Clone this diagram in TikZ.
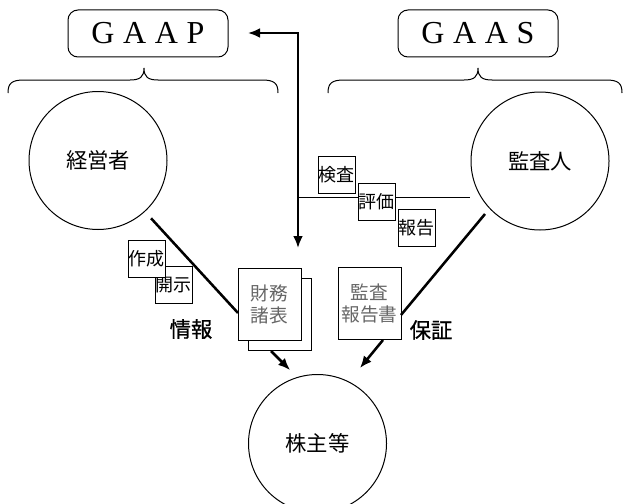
\documentclass[tikz,border=0pt]{standalone}
\usepackage{fontspec}
\setmainfont{Liberation Serif}
\newfontfamily\jp{Noto Sans CJK JP}
\newfontfamily\jpm[FakeBold=0.8]{Noto Sans CJK JP}
\usetikzlibrary{arrows.meta}
\begin{document}
\begin{tikzpicture}[x=0.75pt,y=-0.75pt,
  thinline/.style={line width=0.75pt},
  thickline/.style={line width=1.9pt},
  tip/.style={-{Latex[length=9pt,width=7.5pt]}},
  circ/.style={circle, draw, line width=0.75pt, minimum size=103.5pt, inner sep=0pt, font=\jp\fontsize{16}{18}\selectfont},
  tagbox/.style={rectangle, draw, fill=white, line width=0.75pt, minimum width=27.75pt, minimum height=27.75pt, inner sep=0pt, font=\jp\fontsize{13.5}{14}\selectfont},
  docbox/.style={rectangle, draw, fill=white, line width=0.75pt, minimum width=47.25pt, minimum height=54pt, inner sep=0pt, align=center, text=black!60, font=\jp\fontsize{14}{16.5}\selectfont},
  stdbox/.style={rectangle, rounded corners=7.5pt, draw, line width=0.75pt, minimum width=120pt, minimum height=35.25pt, inner sep=0pt, font=\fontsize{24}{26}\selectfont},
  biglabel/.style={font=\jpm\fontsize{16}{18}\selectfont}
]
\useasboundingbox (0,0) rectangle (623,503);

% standards
\node[stdbox] (gaap) at (148,33.5) {G\hspace{6.5pt}A\hspace{6.5pt}A\hspace{6.5pt}P};
\node[stdbox] (gaas) at (478,33.5) {G\hspace{6.5pt}A\hspace{6.5pt}A\hspace{6.5pt}S};

% braces
\draw[thinline] (8,93) .. controls (8,83) and (12,80) .. (24,80) -- (130,80)
  .. controls (140,80) and (144,77) .. (144,68)
  .. controls (144,77) and (148,80) .. (158,80) -- (262,80)
  .. controls (274,80) and (278,83) .. (278,93);
\draw[thinline] (328,93) .. controls (328,83) and (332,80) .. (344,80) -- (464,80)
  .. controls (474,80) and (478,77) .. (478,68)
  .. controls (478,77) and (482,80) .. (492,80) -- (606,80)
  .. controls (618,80) and (622,83) .. (622,93);

% circles
\node[circ] (mgr) at (98,160.5) {経営者};
\node[circ] (aud) at (540,161) {監査人};
\node[circ] (sh) at (317.5,443.5) {株主等};

% arrow from GAAP corner down
\coordinate (corner) at (298,33);
\coordinate (gaaptip) at (248,33);
\coordinate (vtip) at (298,248);
\draw[thickline, {Latex[length=9pt,width=7.5pt]}-{Latex[length=9pt,width=7.5pt]}] (gaaptip) -- (corner) -- (vtip);

% thin line from auditor
\coordinate (hl1) at (298,197);
\coordinate (hl2) at (470,197);
\draw[thinline] (hl1) -- (hl2);

% audit tags
\node[tagbox] (kensa) at (336.5,175) {検査};
\node[tagbox] (hyoka) at (376.5,201.5) {評価};
\node[tagbox] (hokoku) at (416.5,227.5) {報告};

% management tags
\node[tagbox] (kaiji) at (173.5,285) {開示};
\node[tagbox] (sakusei) at (146.5,259) {作成};

% documents
\node[docbox] (fsback) at (280,314.5) {};
\node[docbox] (fs) at (269.5,304) {財務\\諸表};
\node[docbox] (ar) at (369.5,303.5) {監査\\報告書};

% thick connectors
\coordinate (fsin) at (238,313);
\draw[thickline, shorten <=6.75pt] (mgr) -- (fsin);
\coordinate (arin) at (401,315);
\coordinate (audout) at (485,214);
\draw[thickline] (audout) -- (arin);

\coordinate (fsout) at (271,351);
\coordinate (fstip) at (290,370);
\draw[thickline, tip] (fsout) -- (fstip);
\coordinate (arout) at (383,340);
\coordinate (artip) at (360,368);
\draw[thickline, tip] (arout) -- (artip);

% labels
\node[biglabel] (info) at (191,329) {情報};
\node[biglabel] (assure) at (431,330) {保証};
\end{tikzpicture}
\end{document}
